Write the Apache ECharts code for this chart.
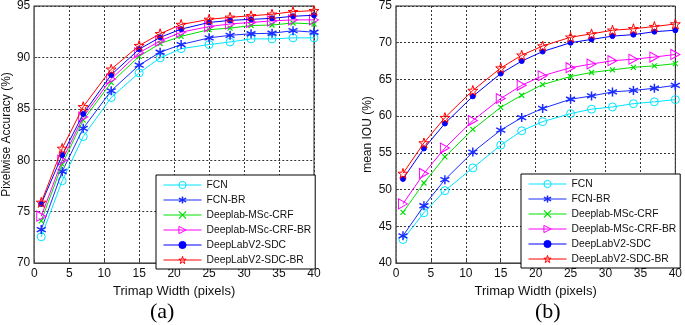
<!DOCTYPE html>
<html>
<head>
<meta charset="utf-8">
<script src="https://cdn.jsdelivr.net/npm/echarts@6/dist/echarts.min.js"></script>
<style>
  html, body { margin: 0; padding: 0; background: #fff; }
  #chart { width: 685px; height: 325px; }
</style>
</head>
<body>
<div id="chart"></div>
<script>
// trimap widths (x)
const trimapWidths = [1, 4, 7, 11, 15, 18, 21, 25, 28, 31, 34, 37, 40];

const methodNames = [
  "FCN",
  "FCN-BR",
  "Deeplab-MSc-CRF",
  "Deeplab-MSc-CRF-BR",
  "DeepLabV2-SDC",
  "DeepLabV2-SDC-BR",
];

// (a) pixelwise accuracy
const accFCN = [72.55, 78.0, 82.3, 86.1, 88.5, 89.95, 90.85, 91.25, 91.5, 91.8, 91.8, 91.9, 91.9];
const accFCNBR = [73.25, 78.9, 83.1, 86.75, 89.25, 90.5, 91.25, 91.9, 92.15, 92.3, 92.35, 92.6, 92.45];
const accCRF = [74.1, 79.6, 83.9, 87.55, 90.1, 91.35, 92.05, 92.7, 92.85, 93.1, 93.15, 93.35, 93.25];
const accCRFBR = [74.55, 80.0, 84.2, 87.9, 90.45, 91.6, 92.45, 93.0, 93.25, 93.4, 93.55, 93.65, 93.65];
const accSDC = [75.75, 80.5, 84.5, 88.3, 90.8, 91.95, 92.75, 93.4, 93.6, 93.7, 93.8, 94.0, 94.1];
const accSDCBR = [75.9, 81.15, 85.2, 88.85, 91.15, 92.3, 93.2, 93.7, 93.9, 94.05, 94.2, 94.45, 94.55];

// (b) mean IOU
const iouFCN = [43.2, 46.85, 49.85, 52.95, 56.05, 58.0, 59.25, 60.35, 60.95, 61.25, 61.7, 61.95, 62.25];
const iouFCNBR = [43.7, 47.8, 51.35, 55.1, 58.1, 59.8, 61.05, 62.3, 62.75, 63.3, 63.5, 63.8, 64.2];
const iouCRF = [46.9, 50.9, 54.45, 58.2, 61.2, 62.85, 64.3, 65.4, 65.95, 66.3, 66.65, 66.85, 67.15];
const iouCRFBR = [48.05, 52.2, 55.65, 59.4, 62.4, 64.2, 65.5, 66.6, 67.1, 67.55, 67.75, 68.05, 68.4];
const iouSDC = [51.45, 55.6, 59.0, 62.7, 65.8, 67.5, 68.8, 70.0, 70.45, 70.9, 71.1, 71.5, 71.7];
const iouSDCBR = [52.2, 56.35, 59.8, 63.5, 66.55, 68.3, 69.55, 70.75, 71.2, 71.7, 71.9, 72.2, 72.55];

const accData = [accFCN, accFCNBR, accCRF, accCRFBR, accSDC, accSDCBR];
const iouData = [iouFCN, iouFCNBR, iouCRF, iouCRFBR, iouSDC, iouSDCBR];

const xTicks = [0, 40, 5];
const accTicks = [70, 95, 5];
const iouTicks = [40, 75, 5];

// marker styles (matlab-like)
const starPath = "path://M0,-100L22.45,-30.9L95.11,-30.9L36.33,11.8L58.78,80.9L0,38.2L-58.78,80.9L-36.33,11.8L-95.11,-30.9L-22.45,-30.9Z";
const asteriskPath = "path://M0,-100L0,100M-86.6,-50L86.6,50M-86.6,50L86.6,-50";
const crossPath = "path://M-100,-100L100,100M-100,100L100,-100";

const markers = [
  { color: "#00e4ff", symbol: "circle", size: 8, hollow: true },
  { color: "#1a2cff", symbol: asteriskPath, size: 9, hollow: true, bw: 1.5 },
  { color: "#00e000", symbol: crossPath, size: 5, hollow: true, bw: 1.2 },
  { color: "#ff00ff", symbol: "triangle", size: [10, 9], rotate: -90, hollow: true },
  { color: "#0000ff", symbol: "circle", size: 5, hollow: false },
  { color: "#ff0000", symbol: starPath, size: 10, hollow: true, bw: 1 },
];

const font = "Liberation Sans, Arial, sans-serif";

const markerStyle = (m) => ({
  color: m.hollow ? "rgba(255,255,255,0)" : m.color,
  borderColor: m.color,
  borderWidth: m.bw || 1,
});

const makeSeries = (data, idx) =>
  data.map((vals, i) => {
    const m = markers[i];
    return {
      name: methodNames[i],
      type: "line",
      xAxisIndex: idx,
      yAxisIndex: idx,
      data: trimapWidths.map((x, j) => [x, vals[j]]),
      symbol: m.symbol,
      symbolSize: m.size,
      symbolRotate: m.rotate || 0,
      showAllSymbol: true,
      lineStyle: { color: m.color, width: 1 },
      itemStyle: markerStyle(m),
      emphasis: { disabled: true },
      z: 3 + i,
    };
  });

const xAxisFor = (idx) => ({
  type: "value",
  gridIndex: idx,
  min: xTicks[0],
  max: xTicks[1],
  interval: xTicks[2],
  name: "Trimap Width (pixels)",
  nameLocation: "middle",
  nameGap: 18,
  nameTextStyle: { fontFamily: font, fontSize: 13, color: "#111" },
  axisLine: { lineStyle: { color: "#444", width: 1 } },
  axisTick: { inside: true, length: 3, lineStyle: { color: "#444" } },
  axisLabel: { fontFamily: font, fontSize: 12, color: "#111", margin: 5 },
  splitLine: { lineStyle: { color: "#333", type: [2, 2], width: 1 } },
});

const yAxisFor = (idx, ticks, name, gap) => ({
  type: "value",
  gridIndex: idx,
  min: ticks[0],
  max: ticks[1],
  interval: ticks[2],
  name: name,
  nameLocation: "middle",
  nameGap: gap,
  nameTextStyle: { fontFamily: font, fontSize: 12, color: "#111" },
  axisLine: { lineStyle: { color: "#777", width: 1.5 } },
  axisTick: { inside: true, length: 3, lineStyle: { color: "#444" } },
  axisLabel: { fontFamily: font, fontSize: 12, color: "#111", margin: 4 },
  splitLine: { lineStyle: { color: "#333", type: [2, 2], width: 1 } },
});

const legendFor = (left, top) => ({
  orient: "vertical",
  left: left,
  top: top,
  data: methodNames.map((n, i) => ({
    name: n,
    itemStyle: markerStyle(markers[i]),
    lineStyle: { color: markers[i].color, width: 1 },
  })),
  itemWidth: 38,
  itemHeight: 9,
  itemGap: 5,
  padding: [5, 4, 4, 7],
  borderColor: "#000",
  borderWidth: 1,
  backgroundColor: "#fff",
  selectedMode: false,
  textStyle: { fontFamily: font, fontSize: 10.3, color: "#111", lineHeight: 9 },
  z: 20,
});

const chart = echarts.init(document.getElementById("chart"), null, { renderer: "canvas" });

chart.setOption({
  animation: false,
  backgroundColor: "#fff",
  grid: [
    { left: 31, top: 3, width: 283, height: 260, show: true, borderColor: "#222", borderWidth: 1 },
    { left: 396, top: 3, width: 284, height: 260, show: true, borderColor: "#222", borderWidth: 1 },
  ],
  xAxis: [xAxisFor(0), xAxisFor(1)],
  yAxis: [
    yAxisFor(0, accTicks, "Pixelwise Accuracy (%)", 20),
    yAxisFor(1, iouTicks, "mean IOU (%)", 22),
  ],
  legend: [legendFor(156, 175), legendFor(521, 174)],
  series: [...makeSeries(accData, 0), ...makeSeries(iouData, 1)],
  graphic: [
    {
      type: "text",
      left: 150,
      top: 301,
      style: { text: "(a)", font: "22px Liberation Serif, Times New Roman, serif", fill: "#000" },
    },
    {
      type: "text",
      left: 535,
      top: 301,
      style: { text: "(b)", font: "22px Liberation Serif, Times New Roman, serif", fill: "#000" },
    },
  ],
});
</script>
</body>
</html>
